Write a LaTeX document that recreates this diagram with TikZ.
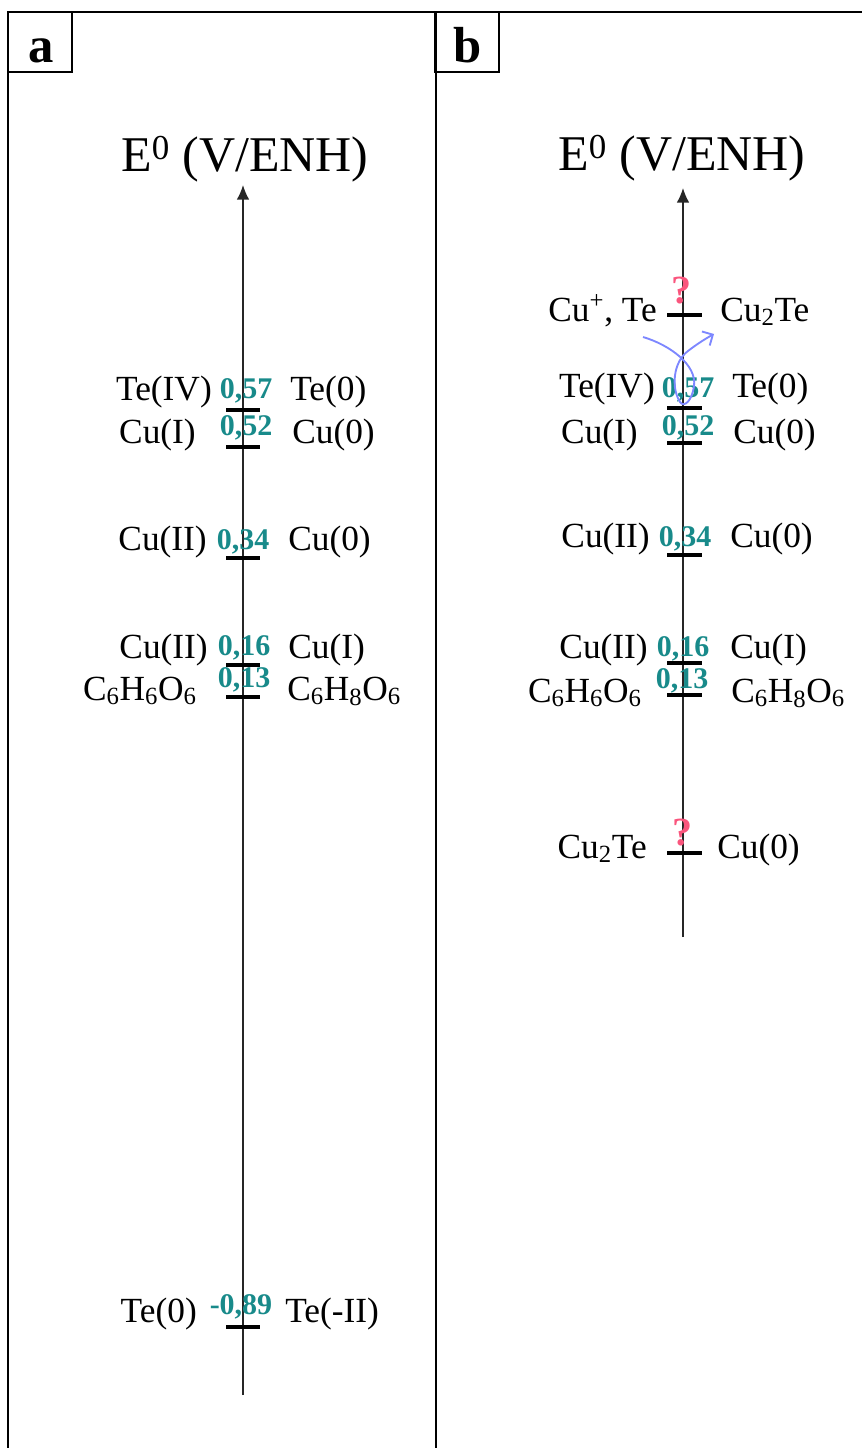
\documentclass[tikz,border=0pt]{standalone}
\usepackage{fontspec}
\setmainfont{Liberation Serif}
\usetikzlibrary{arrows.meta}
\definecolor{valteal}{RGB}{24,138,138}
\definecolor{qpink}{RGB}{250,85,125}
\definecolor{loopblue}{RGB}{125,135,255}
\tikzset{
  lab/.style={inner sep=0pt, font=\fontsize{26.5}{30}\selectfont},
  labL/.style={lab, anchor=base east},
  labR/.style={lab, anchor=base west},
  val/.style={inner sep=0pt, anchor=base, text=valteal, font=\fontsize{22.5}{24}\selectfont\bfseries},
  ttl/.style={inner sep=0pt, anchor=base, font=\fontsize{37.5}{40}\selectfont},
  qmark/.style={inner sep=0pt, anchor=base, text=qpink, font=\fontsize{30}{32}\selectfont\bfseries},
  panbox/.style={draw, line width=1.5pt, minimum width=47.5pt, minimum height=45pt, inner sep=0pt},
  panlab/.style={inner sep=0pt, anchor=base, font=\fontsize{38}{40}\selectfont\bfseries},
  axisline/.style={line width=1.1pt, draw=black!85, -{Latex[length=11pt,width=9.5pt]}},
  tickmark/.style={line width=3.2pt},
  loop/.style={draw=loopblue, line width=1.4pt, -{Straight Barb[length=6pt,width=12pt]}},
}
\begin{document}
\begin{tikzpicture}[x=0.75pt,y=-0.75pt]
\useasboundingbox (0,0) rectangle (862,1448);
% frame
\draw[line width=1.9pt] (8,1448) -- (8,12) -- (862,12);
\draw[line width=1.2pt] (436,12) -- (436,1448);
\node[panbox] (boxa) at (40,42) {};
\node[panbox] (boxb) at (467,42) {};
\node[panlab] (pa) at (41,63) {a};
\node[panlab] (pb) at (468,63) {b};

% ---------------- panel a ----------------
\node[ttl] (ta) at (245,172) {E\textsuperscript{0} (V/ENH)};
\coordinate (abot) at (243,1395);
\coordinate (atop) at (243,185);
\draw[axisline] (abot) -- (atop);
\foreach \y in {410,447,558,665,697,1327}{\draw[tickmark] (226,\y) -- (260,\y);}

\node[labL] (a1l) at (212,400) {Te(IV)};
\node[val]  (a1v) at (246,398) {0,57};
\node[labR] (a1r) at (290,400) {Te(0)};

\node[labL] (a2l) at (196,443) {Cu(I)};
\node[val]  (a2v) at (246,435) {0,52};
\node[labR] (a2r) at (292,443) {Cu(0)};

\node[labL] (a3l) at (207,550) {Cu(II)};
\node[val]  (a3v) at (243,549) {0,34};
\node[labR] (a3r) at (288,550) {Cu(0)};

\node[labL] (a4l) at (208,658) {Cu(II)};
\node[val]  (a4v) at (244,655) {0,16};
\node[labR] (a4r) at (288,658) {Cu(I)};

\node[labL] (a5l) at (197,700) {C\textsubscript{6}H\textsubscript{6}O\textsubscript{6}};
\node[val]  (a5v) at (244,687) {0,13};
\node[labR] (a5r) at (287,700) {C\textsubscript{6}H\textsubscript{8}O\textsubscript{6}};

\node[labL] (a6l) at (197,1322) {Te(0)};
\node[val]  (a6v) at (241,1314) {-0,89};
\node[labR] (a6r) at (285,1322) {Te(-II)};

% ---------------- panel b ----------------
\node[ttl] (tb) at (682,171) {E\textsuperscript{0} (V/ENH)};
\coordinate (bbot) at (683,937);
\coordinate (btop) at (683,188);
\draw[axisline] (bbot) -- (btop);
\foreach \y in {315,408,443,555,663,695,853}{\draw[tickmark] (667,\y) -- (702,\y);}

\node[qmark] (q1) at (681,303) {?};
\node[labL] (b0l) at (657,321) {Cu\textsuperscript{+}, Te};
\node[labR] (b0r) at (720,321) {Cu\textsubscript{2}Te};

\node[labL] (b1l) at (655,397) {Te(IV)};
\node[val]  (b1v) at (688,397) {0,57};
\node[labR] (b1r) at (732,397) {Te(0)};

\node[labL] (b2l) at (638,443) {Cu(I)};
\node[val]  (b2v) at (688,435) {0,52};
\node[labR] (b2r) at (733,443) {Cu(0)};

\node[labL] (b3l) at (650,547) {Cu(II)};
\node[val]  (b3v) at (685,546) {0,34};
\node[labR] (b3r) at (730,547) {Cu(0)};

\node[labL] (b4l) at (648,658) {Cu(II)};
\node[val]  (b4v) at (683,656) {0,16};
\node[labR] (b4r) at (730,658) {Cu(I)};

\node[labL] (b5l) at (642,702) {C\textsubscript{6}H\textsubscript{6}O\textsubscript{6}};
\node[val]  (b5v) at (682,688) {0,13};
\node[labR] (b5r) at (731,702) {C\textsubscript{6}H\textsubscript{8}O\textsubscript{6}};

\node[qmark] (q2) at (682,845) {?};
\node[labL] (b6l) at (647,858) {Cu\textsubscript{2}Te};
\node[labR] (b6r) at (717,858) {Cu(0)};

% blue loop arrow
\coordinate (ls) at (643,337);
\coordinate (le) at (714,334);
\draw[loop] (ls) .. controls (670,345) and (697,365) .. (694,386)
  .. controls (692,401) and (684,408) .. (680,402)
  .. controls (671,388) and (673,362) .. (688,351)
  .. controls (697,344) and (705,339) .. (le);
\end{tikzpicture}
\end{document}
